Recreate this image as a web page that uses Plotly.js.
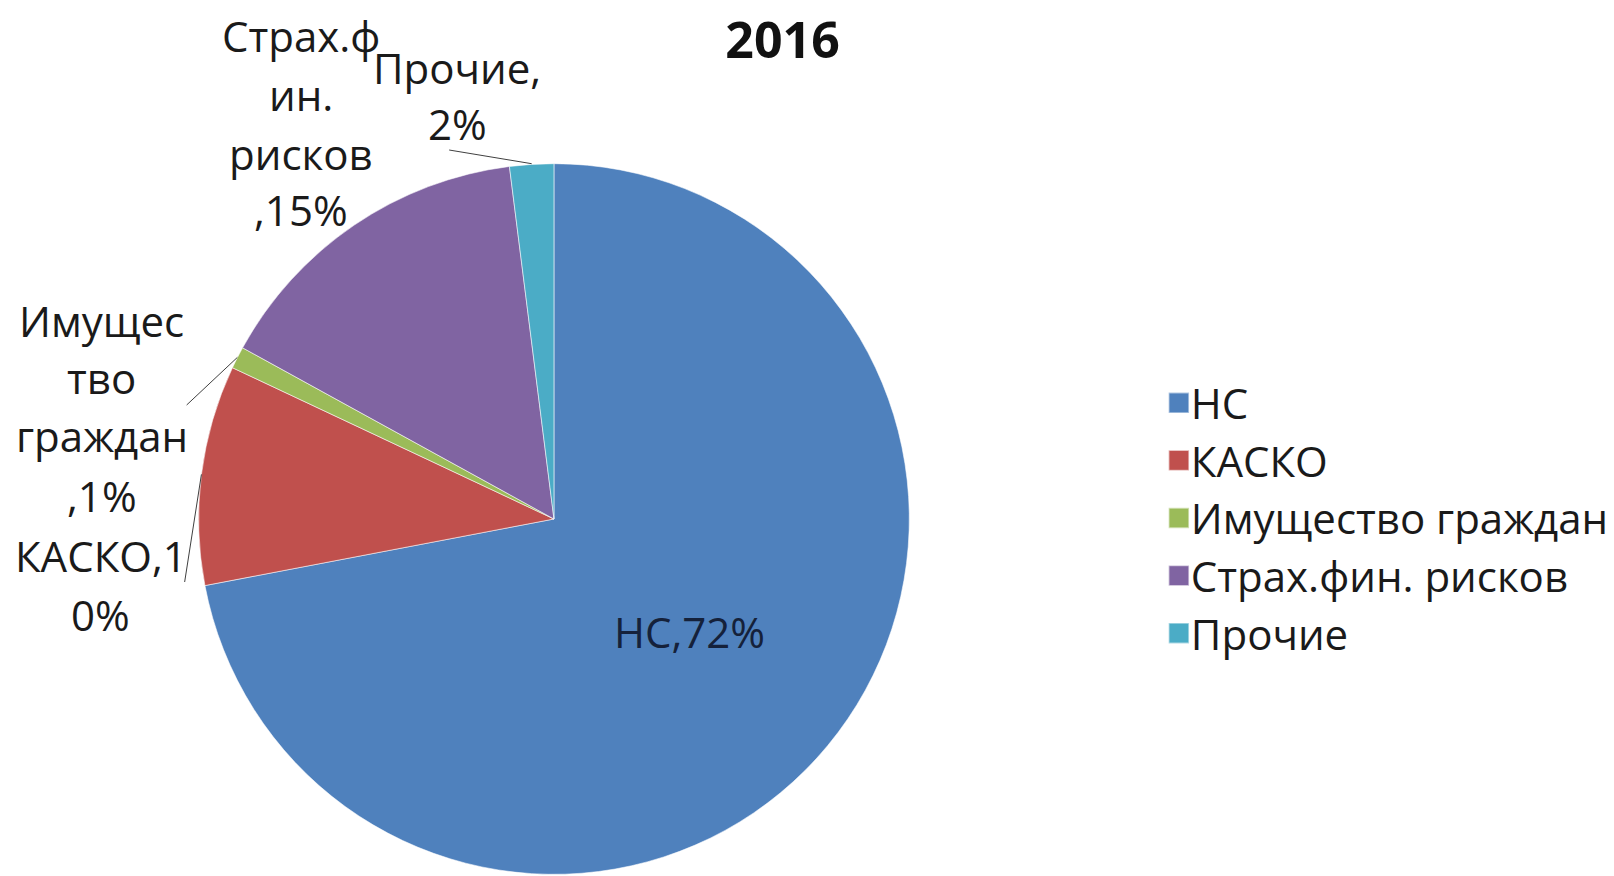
<!DOCTYPE html>
<html>
<head>
<meta charset="utf-8">
<script src="https://cdn.plot.ly/plotly-3.0.1.min.js"></script>
<style>html,body{margin:0;padding:0;background:#fff;}#chart{width:1614px;height:876px;}</style>
</head>
<body>
<div id="chart"></div>
<script>
// ---- data ----
const chartTitle = '2016';
const categories = ['НС', 'КАСКО', 'Имущество граждан', 'Страх.фин. рисков', 'Прочие'];
const values = [72, 10, 1, 15, 2];
const colors = ['#4F81BD', '#C0504D', '#9BBB59', '#8064A2', '#4BACC6'];
// data label text, wrapped as in the original
const labelLines = [
  ['НС,72%'],
  ['КАСКО,1', '0%'],
  ['Имущес', 'тво', 'граждан', ',1%'],
  ['Страх.ф', 'ин.', 'рисков', ',15%'],
  ['Прочие,', '2%']
];

// ---- layout geometry ----
const W = 1614, H = 876;
const cx = 555, cy = 519, R = 356;
const dom = {x: [(cx - R) / W, (cx + R) / W], y: [1 - (cy + R) / H, 1 - (cy - R) / H]};

// label placement (text centres, px) and leader-line label ends
const labelPos = [
  {x: 691, y: [631]},
  {x: 101, y: [555, 614]},
  {x: 102, y: [320, 378, 436, 495]},
  {x: 302, y: [35, 95, 153, 210]},
  {x: 458, y: [68, 123]}
];
const leaderEnd = [null, [185, 582], [187, 405], null, [450, 150]];

const total = values.reduce((a, b) => a + b, 0);
const annotations = [];
const shapes = [];
let cum = 0;
values.forEach((v, i) => {
  const mid = (cum + v / 2) / total * 2 * Math.PI; // clockwise from 12 o'clock
  cum += v;
  labelLines[i].forEach((t, j) => {
    annotations.push({
      text: t, xref: 'paper', yref: 'paper',
      x: labelPos[i].x / W, y: 1 - labelPos[i].y[j] / H,
      xanchor: 'center', yanchor: 'middle', showarrow: false,
      font: {family: 'Open Sans', size: 42, color: i === 0 ? '#15213a' : '#1a1a1a'}
    });
  });
  if (leaderEnd[i]) {
    const ax = cx + R * Math.sin(mid), ay = cy - R * Math.cos(mid);
    shapes.push({
      type: 'line', xref: 'paper', yref: 'paper',
      x0: leaderEnd[i][0] / W, y0: 1 - leaderEnd[i][1] / H,
      x1: ax / W, y1: 1 - ay / H,
      line: {color: '#404040', width: 1}
    });
  }
});

const trace = {
  type: 'pie',
  labels: categories,
  values: values,
  sort: false,
  direction: 'clockwise',
  rotation: 0,
  textinfo: 'none',
  hoverinfo: 'label+percent',
  marker: {colors: colors, line: {color: 'rgba(255,255,255,0.55)', width: 1}},
  domain: dom
};

const layout = {
  width: W, height: H,
  margin: {l: 0, r: 0, t: 0, b: 0},
  paper_bgcolor: '#fff',
  font: {family: 'Open Sans', color: '#1a1a1a'},
  title: {
    text: '<b>' + chartTitle + '</b>',
    x: 784 / W, xanchor: 'center', xref: 'paper',
    y: 1 - 40 / H, yanchor: 'middle', yref: 'paper',
    font: {family: 'Open Sans', size: 50, color: '#111'}
  },
  showlegend: true,
  legend: {
    x: 1153 / W, xanchor: 'left', y: 1 - 518 / H, yanchor: 'middle',
    font: {family: 'Open Sans', size: 42, color: '#1a1a1a'},
    bgcolor: 'rgba(0,0,0,0)', itemclick: false
  },
  annotations: annotations,
  shapes: shapes
};

Plotly.newPlot('chart', [trace], layout, {displayModeBar: false, staticPlot: true}).then(gd => {
  // enlarge legend swatches to match the original's square markers
  gd.querySelectorAll('.legend .legendpoints path').forEach(p => {
    const t = p.getAttribute('transform') || '';
    p.setAttribute('transform', t + ' translate(8,0) scale(1.7)');
  });
});
</script>
</body>
</html>
